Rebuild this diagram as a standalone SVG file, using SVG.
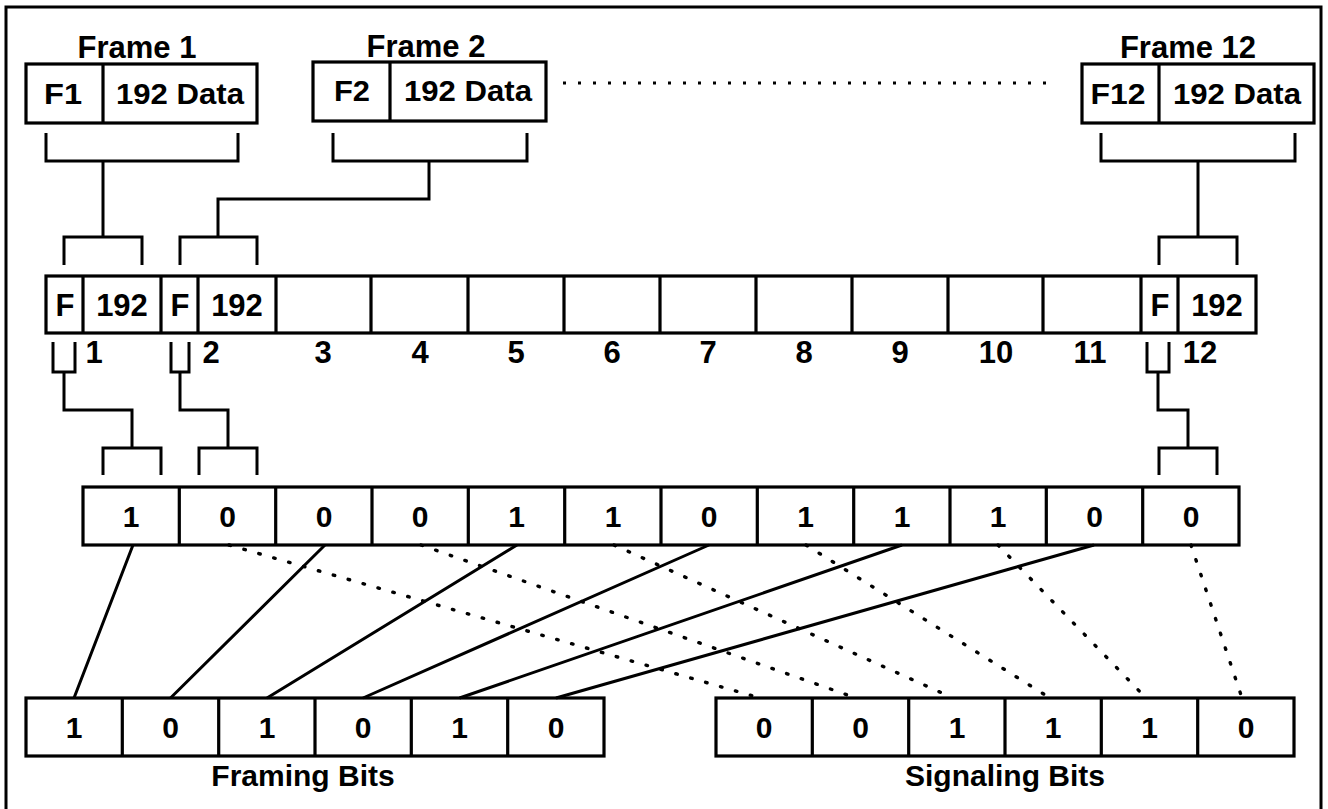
<svg xmlns="http://www.w3.org/2000/svg" width="1328" height="809" viewBox="0 0 1328 809">
<style>
.box{fill:#fff;stroke:#000;stroke-width:3.2}
.ln{fill:none;stroke:#000;stroke-width:3.2}
.cn{fill:none;stroke:#000;stroke-width:3}
.dt{fill:none;stroke:#000;stroke-width:3.4;stroke-linecap:round;stroke-dasharray:1.5 14}
.t{font-family:"Liberation Sans",Arial,sans-serif;font-weight:bold;fill:#000;text-anchor:middle}
.ti{font-size:31px}
.bx{font-size:30px}
.md{font-size:31px}
.bt{font-size:30px}
.lb{font-size:30px}
</style>
<rect x="6" y="7" width="1315" height="830" fill="#fff" stroke="#000" stroke-width="3"/>

<g id="frame1">
<text class="t ti" x="137" y="58">Frame 1</text>
<rect class="box" x="26" y="64" width="231" height="59"/>
<line class="ln" x1="103" y1="64" x2="103" y2="123"/>
<text class="t bx" x="63" y="104" textLength="38" lengthAdjust="spacingAndGlyphs">F1</text>
<text class="t bx" x="180" y="104" textLength="128" lengthAdjust="spacingAndGlyphs">192 Data</text>
</g>
<g id="frame2">
<text class="t ti" x="426" y="57">Frame 2</text>
<rect class="box" x="313" y="62" width="233" height="59"/>
<line class="ln" x1="390" y1="62" x2="390" y2="121"/>
<text class="t bx" x="352" y="101" textLength="36" lengthAdjust="spacingAndGlyphs">F2</text>
<text class="t bx" x="468" y="101" textLength="128" lengthAdjust="spacingAndGlyphs">192 Data</text>
</g>
<g id="frame12">
<text class="t ti" x="1188" y="58">Frame 12</text>
<rect class="box" x="1082" y="64" width="232" height="59"/>
<line class="ln" x1="1159" y1="64" x2="1159" y2="123"/>
<text class="t bx" x="1118" y="104" textLength="55" lengthAdjust="spacingAndGlyphs">F12</text>
<text class="t bx" x="1237" y="104" textLength="128" lengthAdjust="spacingAndGlyphs">192 Data</text>
</g>

<g id="multiframe">
<rect class="box" x="46" y="276" width="1210" height="57"/>
<path class="ln" d="M83 276V333M161 276V333M198 276V333M276 276V333M371 276V333M468 276V333M564 276V333M660 276V333M756 276V333M852 276V333M948 276V333M1043 276V333M1141 276V333M1178 276V333"/>
<text class="t md" x="65" y="316">F</text>
<text class="t md" x="122" y="316">192</text>
<text class="t md" x="180" y="316">F</text>
<text class="t md" x="237" y="316">192</text>
<text class="t md" x="1160" y="316">F</text>
<text class="t md" x="1217" y="316">192</text>
<text class="t md" x="94" y="363">1</text>
<text class="t md" x="211" y="363">2</text>
<text class="t md" x="323" y="363">3</text>
<text class="t md" x="420" y="363">4</text>
<text class="t md" x="516" y="363">5</text>
<text class="t md" x="612" y="363">6</text>
<text class="t md" x="708" y="363">7</text>
<text class="t md" x="804" y="363">8</text>
<text class="t md" x="900" y="363">9</text>
<text class="t md" x="996" y="363">10</text>
<text class="t md" x="1090" y="363">11</text>
<text class="t md" x="1200" y="363">12</text>
</g>

<g id="bitrow">
<rect class="box" x="83" y="487" width="1156" height="58"/>
<path class="ln" d="M179.3 487V545M275.7 487V545M372 487V545M468.3 487V545M564.7 487V545M661 487V545M757.3 487V545M853.7 487V545M950 487V545M1046.3 487V545M1142.7 487V545"/>
<text class="t bt" x="131" y="527">1</text>
<text class="t bt" x="227.5" y="527">0</text>
<text class="t bt" x="324" y="527">0</text>
<text class="t bt" x="420" y="527">0</text>
<text class="t bt" x="516.5" y="527">1</text>
<text class="t bt" x="613" y="527">1</text>
<text class="t bt" x="709" y="527">0</text>
<text class="t bt" x="805.5" y="527">1</text>
<text class="t bt" x="902" y="527">1</text>
<text class="t bt" x="998" y="527">1</text>
<text class="t bt" x="1094.5" y="527">0</text>
<text class="t bt" x="1191" y="527">0</text>
</g>

<g id="framing">
<rect class="box" x="26" y="698" width="578" height="58"/>
<path class="ln" d="M122.3 698V756M218.7 698V756M315 698V756M411.3 698V756M507.7 698V756"/>
<text class="t bt" x="74" y="738">1</text>
<text class="t bt" x="170.5" y="738">0</text>
<text class="t bt" x="267" y="738">1</text>
<text class="t bt" x="363" y="738">0</text>
<text class="t bt" x="459.5" y="738">1</text>
<text class="t bt" x="556" y="738">0</text>
<text class="t lb" x="303" y="786">Framing Bits</text>
</g>

<g id="signaling">
<rect class="box" x="716" y="698" width="578" height="58"/>
<path class="ln" d="M812.3 698V756M908.7 698V756M1005 698V756M1101.3 698V756M1197.7 698V756"/>
<text class="t bt" x="764" y="738">0</text>
<text class="t bt" x="860.5" y="738">0</text>
<text class="t bt" x="957" y="738">1</text>
<text class="t bt" x="1053" y="738">1</text>
<text class="t bt" x="1149.5" y="738">1</text>
<text class="t bt" x="1246" y="738">0</text>
<text class="t lb" x="1005" y="786">Signaling Bits</text>
</g>

<g id="connectors">
<line class="dt" x1="563" y1="83" x2="1058" y2="83" style="stroke-dasharray:3 12;stroke-width:2.8;stroke-linecap:butt"/>
<path class="cn" d="M46 133V161H238V133M103 161V237M64 265V237H142V265"/>
<path class="cn" d="M333 133V161H527V133M429 161V199H218V237M180 265V237H257V265"/>
<path class="cn" d="M1101 133V161H1295V133M1198 161V237M1159 265V237H1237V265"/>
<path class="cn" d="M53 342V372H75V342M64 372V410H132V448M103 475V448H161V475"/>
<path class="cn" d="M171 342V372H189V342M180 372V410H228V448M199 475V448H257V475"/>
<path class="cn" d="M1147 342V372H1169V342M1158 372V410H1188V448M1159 475V448H1217V475"/>
<path class="cn" d="M133 545L74 698M325 545L170.5 698M517 545L267 698M709 545L363 698M902 545L459.5 698M1094 545L556 698"/>
<path class="dt" d="M229 545L760 698M421 545L856 698M614 545L953 698M806 545L1050 698M998 545L1146 698M1191 545L1242 698"/>
</g>
</svg>
